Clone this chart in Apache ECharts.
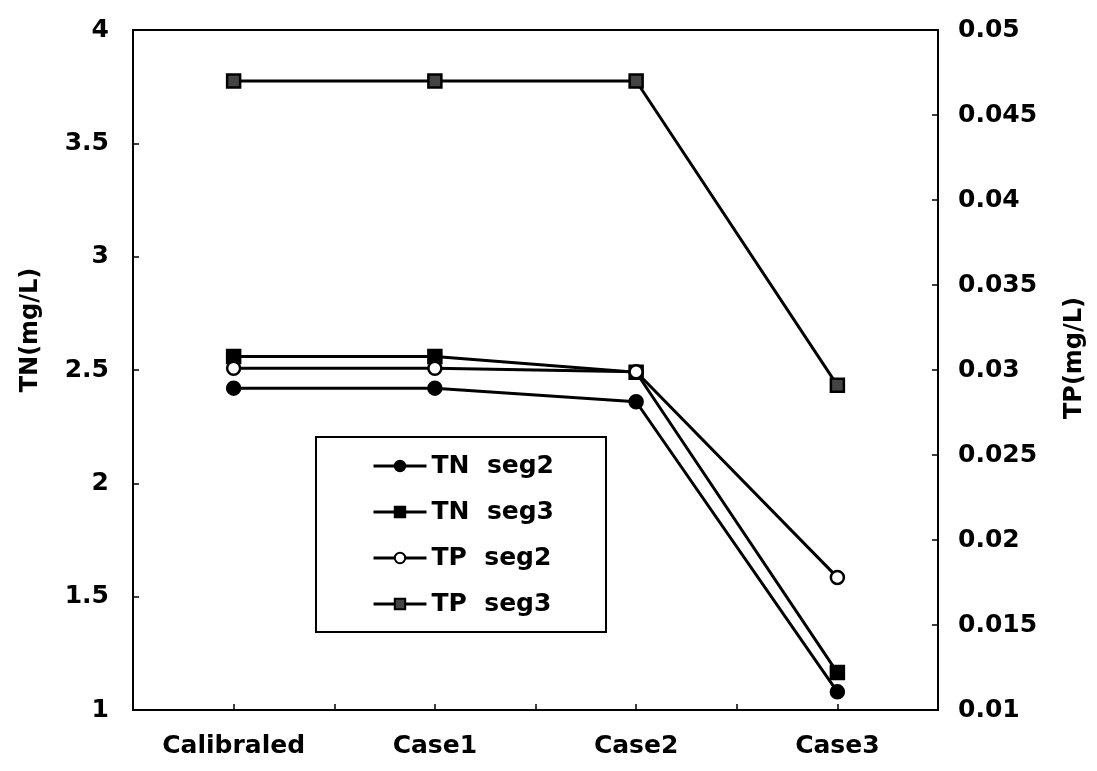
<!DOCTYPE html>
<html>
<head>
<meta charset="utf-8">
<script src="https://cdn.jsdelivr.net/npm/echarts@6/dist/echarts.min.js"></script>
<style>
  html, body { margin: 0; padding: 0; background: #fff; }
  #chart { width: 1097px; height: 771px; }
</style>
</head>
<body>
<div id="chart"></div>
<script>
// Scenario labels along the bottom axis
const categories = ['Calibraled', 'Case1', 'Case2', 'Case3'];

// Total nitrogen (mg/L), left axis
const tnSeg2 = [2.42, 2.42, 2.36, 1.08];
const tnSeg3 = [2.56, 2.56, 2.49, 1.165];

// Total phosphorus (mg/L), right axis
const tpSeg2 = [0.0301, 0.0301, 0.0299, 0.0178];
const tpSeg3 = [0.0470, 0.0470, 0.0470, 0.0291];

const seriesNames = ['TN  seg2', 'TN  seg3', 'TP  seg2', 'TP  seg3'];

const FONT = 'DejaVu Sans';
const INK = '#000';

const chart = echarts.init(document.getElementById('chart'), null, { renderer: 'canvas' });

function lineSeries(name, data, yAxisIndex, symbol, fill, size) {
  return {
    name: name,
    type: 'line',
    xAxisIndex: 0,
    yAxisIndex: yAxisIndex,
    data: data,
    symbol: symbol,
    symbolSize: size,
    showAllSymbol: true,
    lineStyle: { color: INK, width: 3 },
    itemStyle: { color: fill, borderColor: INK, borderWidth: 2.5 },
    emphasis: { disabled: true },
    animation: false
  };
}

chart.setOption({
  backgroundColor: '#fff',
  animation: false,
  grid: {
    left: 133, right: 159, top: 30, bottom: 61,
    show: true, borderColor: INK, borderWidth: 2, containLabel: false
  },
  legend: {
    data: seriesNames,
    orient: 'vertical',
    left: 316,
    top: 437,
    padding: [15, 52, 14, 56],
    itemGap: 18,
    itemWidth: 53,
    itemHeight: 13,
    borderColor: INK,
    borderWidth: 2,
    backgroundColor: '#fff',
    selectedMode: false,
    lineStyle: { width: 3, color: INK },
    textStyle: { fontFamily: FONT, fontWeight: 'bold', fontSize: 25, color: INK, lineHeight: 28 }
  },
  xAxis: [
    {
      type: 'category',
      data: categories,
      boundaryGap: true,
      axisLine: { show: true, lineStyle: { color: INK, width: 2 } },
      axisTick: { show: false },
      axisLabel: { fontFamily: FONT, fontWeight: 'bold', fontSize: 25, color: INK, margin: 24 },
      splitLine: { show: false }
    },
    {
      // half-category tick marks along the bottom edge
      type: 'value',
      position: 'bottom',
      min: 0, max: 8, interval: 1,
      axisLine: { show: false },
      axisTick: { show: true, inside: true, length: 6, lineStyle: { color: INK, width: 1.5 } },
      axisLabel: { show: false },
      splitLine: { show: false }
    }
  ],
  yAxis: [
    {
      type: 'value',
      min: 1, max: 4, interval: 0.5,
      position: 'left',
      name: 'TN(mg/L)',
      nameLocation: 'middle',
      nameRotate: 90,
      nameGap: 90,
      nameTextStyle: { fontFamily: FONT, fontWeight: 'bold', fontSize: 24, color: INK, padding: [0, 0, 0, 80] },
      axisLine: { show: true, lineStyle: { color: INK, width: 2 } },
      axisTick: { show: true, inside: true, length: 6, lineStyle: { color: INK, width: 1.5 } },
      axisLabel: { fontFamily: FONT, fontWeight: 'bold', fontSize: 25, color: INK, margin: 24 },
      splitLine: { show: false }
    },
    {
      type: 'value',
      min: 0.01, max: 0.05, interval: 0.005,
      position: 'right',
      name: 'TP(mg/L)',
      nameLocation: 'middle',
      nameRotate: 90,
      nameGap: 125,
      nameTextStyle: { fontFamily: FONT, fontWeight: 'bold', fontSize: 24, color: INK, padding: [0, 0, 0, 24] },
      axisLine: { show: true, lineStyle: { color: INK, width: 2 } },
      axisTick: { show: true, inside: true, length: 6, lineStyle: { color: INK, width: 1.5 } },
      axisLabel: { fontFamily: FONT, fontWeight: 'bold', fontSize: 25, color: INK, margin: 20 },
      splitLine: { show: false }
    }
  ],
  series: [
    lineSeries(seriesNames[0], tnSeg2, 0, 'circle', INK, 13),
    lineSeries(seriesNames[1], tnSeg3, 0, 'rect', INK, 13),
    lineSeries(seriesNames[2], tpSeg2, 1, 'circle', '#fff', 13),
    lineSeries(seriesNames[3], tpSeg3, 1, 'rect', '#444', 13)
  ]
});
</script>
</body>
</html>
